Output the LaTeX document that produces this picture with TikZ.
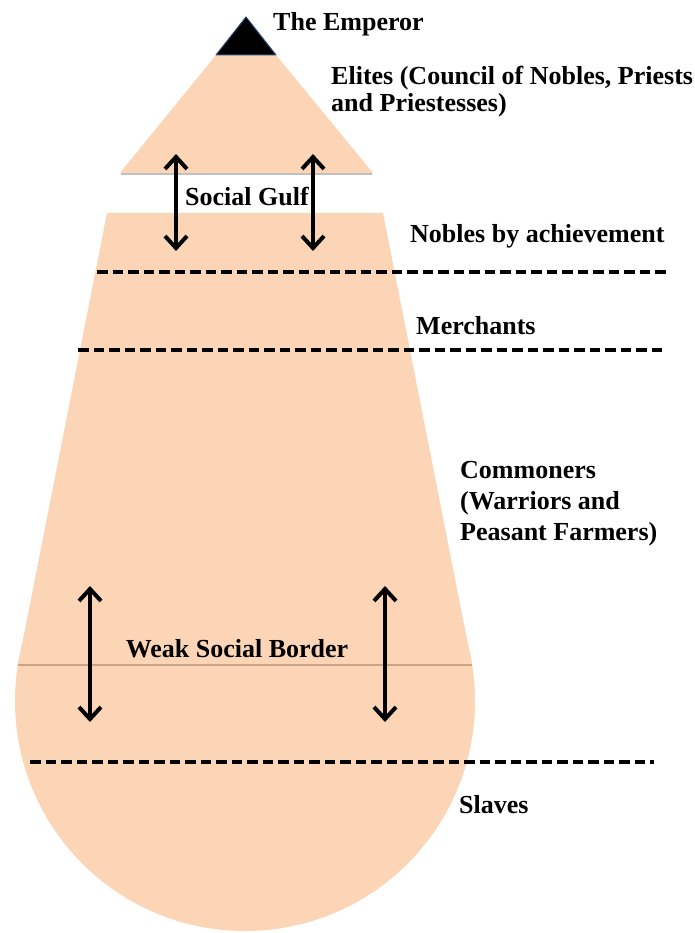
\documentclass[tikz,border=0pt]{standalone}
\usepackage{fontspec}
\setmainfont{Liberation Serif}
\usetikzlibrary{arrows.meta}
\definecolor{peach}{HTML}{FBD5B5}
\definecolor{borderline}{HTML}{C9A384}
\definecolor{tipblue}{HTML}{2A4A78}

\begin{document}
\begin{tikzpicture}[x=1pt,y=-1pt,
	lbl/.style={anchor=base west,inner sep=0pt,align=left,font=\fontsize{26}{27.5}\selectfont\bfseries},
	midlbl/.style={lbl,anchor=base},
	dashline/.style={line width=4.5pt,dash pattern=on 10.5pt off 5pt},
	twoway/.style={line width=4pt,{Straight Barb[length=12pt,width=22pt]}-{Straight Barb[length=12pt,width=22pt]}}]
	\useasboundingbox (0,0) rectangle (694,933);

	\fill[peach] (216,55) -- (276,55) -- (373,173) -- (120,173) -- cycle;
	\draw[black!25,line width=1.2pt] (121,174) -- (372,174);
	\filldraw[fill=black,draw=tipblue,line width=1pt,line join=round] (246,17) -- (276,55) -- (216,55) -- cycle;

	\fill[peach] (107,213) -- (383,213) -- (472,665) -- (18,665) -- cycle;
	\fill[peach] (245,701) circle[radius=230];
	\draw[borderline,line width=1.5pt] (18,665) -- (472,665);

	\draw[dashline] (97,272) -- (668,272);
	\draw[dashline] (78,350) -- (666,350);
	\draw[dashline] (30,762) -- (654,762);

	\coordinate (gulfLtop) at (176,154);
	\coordinate (gulfLbot) at (176,251);
	\coordinate (gulfRtop) at (313,154);
	\coordinate (gulfRbot) at (313,251);
	\coordinate (weakLtop) at (90,586);
	\coordinate (weakLbot) at (90,722);
	\coordinate (weakRtop) at (385,586);
	\coordinate (weakRbot) at (385,722);
	\draw[twoway] (gulfLtop) -- (gulfLbot);
	\draw[twoway] (gulfRtop) -- (gulfRbot);
	\draw[twoway] (weakLtop) -- (weakLbot);
	\draw[twoway] (weakRtop) -- (weakRbot);

	\node[lbl] (emperor) at (273,31) {The Emperor};
	\node[lbl] (elites) at (331,112) {Elites (Council of Nobles, Priests\\and Priestesses)};
	\node[midlbl] (gulf) at (247,206) {Social Gulf};
	\node[lbl] (nobles) at (410,243) {Nobles by achievement};
	\node[lbl] (merchants) at (416,334) {Merchants};
	\node[lbl,font=\fontsize{26}{31}\selectfont\bfseries] (commoners) at (460,540) {Commoners\\(Warriors and\\Peasant Farmers)};
	\node[midlbl] (weak) at (237,657) {Weak Social Border};
	\node[lbl] (slaves) at (459,813) {Slaves};
\end{tikzpicture}
\end{document}
